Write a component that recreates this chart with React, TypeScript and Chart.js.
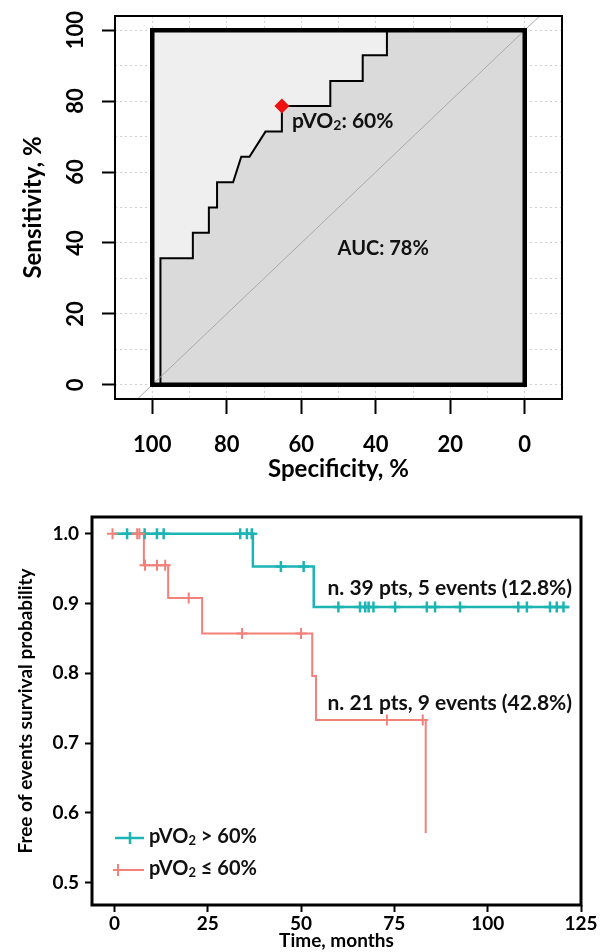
import React, { useEffect, useRef } from "react";
import { Chart, registerables } from "chart.js";

Chart.register(...registerables);

const FONT = "Lato, 'Open Sans', 'DejaVu Sans', sans-serif";

// ---------------- ROC curve (top panel) ----------------
const rocSpecificity = [100, 97.8, 97.8, 89.1, 89.1, 84.8, 84.8, 82.6, 82.6, 78.3, 76.1, 73.9, 69.6, 65.2, 65.2, 52.2, 52.2, 43.5, 43.5, 37.0, 37.0, 0];
const rocSensitivity = [0, 0, 35.7, 35.7, 42.9, 42.9, 50.0, 50.0, 57.1, 57.1, 64.3, 64.3, 71.4, 71.4, 78.6, 78.6, 85.7, 85.7, 92.9, 92.9, 100, 100];
const rocCutSpecificity = [65.2];
const rocCutSensitivity = [78.6];
const rocFrameSpecificity = [100, 0, 0, 100, 100, 0];
const rocFrameSensitivity = [0, 0, 100, 100, 0, 0];
const rocChanceSpecificity = [120, -20];
const rocChanceSensitivity = [-20, 120];
const rocGridValues = [0, 10, 20, 30, 40, 50, 60, 70, 80, 90, 100];
const rocLabelEvery = 20;
const rocCutLabel = ["pVO", "2", ": 60%"];
const rocAucLabel = "AUC: 78%";
const rocAucAt = [38, 38.5];

// ---------------- Kaplan-Meier (bottom panel) ----------------
const kmHighTimes = [0, 37.1, 53.4, 121.9];
const kmHighSurv = [1, 0.953, 0.895, 0.895];
const kmHighCensor = [3.4, 8.1, 11.4, 13.2, 33.7, 35.5, 36.8, 44.6, 50.7, 60.0, 65.8, 67.2, 68.1, 69.4, 75.2, 83.7, 85.9, 92.6, 108.2, 110.5, 116.7, 118.5, 120.3];
const kmLowTimes = [0, 7.9, 14.4, 23.5, 53.0, 54.0, 83.4];
const kmLowSurv = [1, 0.955, 0.908, 0.857, 0.796, 0.733, 0.571];
const kmLowCensor = [-0.5, 6.1, 6.7, 8.2, 11.4, 13.6, 19.9, 34.2, 50.0, 73.0, 82.6];
const kmXTicks = [0, 25, 50, 75, 100, 125];
const kmYTicks = [0.5, 0.6, 0.7, 0.8, 0.9, 1.0];
const kmHighLabel = "n. 39 pts, 5 events (12.8%)";
const kmLowLabel = "n. 21 pts, 9 events (42.8%)";
const kmHighLabelAt = [122.6, 0.922];
const kmLowLabelAt = [122.6, 0.757];
const kmHighLegend = ["pVO", "2", " > 60%"];
const kmLowLegend = ["pVO", "2", " \u2264 60%"];

const TEAL = "#1db4b4";
const SALMON = "#f4807a";

function survAt(times: number[], surv: number[], t: number) {
  let s = surv[0];
  for (let i = 0; i < times.length; i++) if (times[i] <= t) s = surv[i];
  return s;
}

function pts(xs: number[], ys: number[]) {
  return xs.map((x, i) => ({ x, y: ys[i] }));
}

function drawRich(ctx: CanvasRenderingContext2D, parts: string[], x: number, y: number, size: number, align: "left" | "center" | "right") {
  ctx.save();
  ctx.textBaseline = "middle";
  ctx.fillStyle = "#111";
  const fonts = parts.map((_, i) => `bold ${i === 1 ? Math.round(size * 0.66) : size}px ${FONT}`);
  const widths = parts.map((p, i) => {
    ctx.font = fonts[i];
    return ctx.measureText(p).width;
  });
  const total = widths.reduce((a, b) => a + b, 0);
  let cx = align === "left" ? x : align === "center" ? x - total / 2 : x - total;
  parts.forEach((p, i) => {
    ctx.font = fonts[i];
    ctx.textAlign = "left";
    ctx.fillText(p, cx, i === 1 ? y + size * 0.2 : y);
    cx += widths[i];
  });
  ctx.restore();
}

function rocConfig(): any {
  const tickSize = 22;
  const decor = {
    id: "rocDecor",
    beforeDatasetsDraw(chart: any) {
      const { ctx, scales } = chart;
      const x0 = scales.x.getPixelForValue(100);
      const x1 = scales.x.getPixelForValue(0);
      const y0 = scales.y.getPixelForValue(100);
      const y1 = scales.y.getPixelForValue(0);
      ctx.save();
      ctx.fillStyle = "#efefef";
      ctx.fillRect(x0, y0, x1 - x0, y1 - y0);
      ctx.restore();
    },
    afterDatasetsDraw(chart: any) {
      const { ctx, scales } = chart;
      const px = scales.x.getPixelForValue(rocCutSpecificity[0]);
      const py = scales.y.getPixelForValue(rocCutSensitivity[0]);
      drawRich(ctx, rocCutLabel, px + 10, py + 15, 21, "left");
      drawRich(ctx, [rocAucLabel], scales.x.getPixelForValue(rocAucAt[0]), scales.y.getPixelForValue(rocAucAt[1]), 20, "center");
    },
    afterDraw(chart: any) {
      const { ctx, chartArea: a, scales } = chart;
      ctx.save();
      ctx.strokeStyle = "#000";
      ctx.lineWidth = 2;
      ctx.strokeRect(a.left, a.top, a.right - a.left, a.bottom - a.top);
      // rotated y tick labels (parallel to the axis)
      ctx.fillStyle = "#000";
      ctx.font = `bold ${tickSize}px ${FONT}`;
      ctx.textAlign = "center";
      ctx.textBaseline = "middle";
      scales.y.ticks.forEach((t: any) => {
        if (t.value % rocLabelEvery !== 0) return;
        const yy = scales.y.getPixelForValue(t.value);
        ctx.save();
        ctx.translate(a.left - 39, yy);
        ctx.rotate(-Math.PI / 2);
        ctx.fillText(String(t.value), 0, 0);
        ctx.restore();
      });
      ctx.restore();
    },
  };
  const tickFont = { family: FONT, size: tickSize, weight: "bold" as const };
  const titleFont = { family: FONT, size: 24, weight: "bold" as const };
  const gridColor = "#cfcfcf";
  const tickColor = (c: any) => (c.tick && c.tick.value % rocLabelEvery === 0 ? "#000" : "rgba(0,0,0,0)");
  const label = (v: any) => (Number(v) % rocLabelEvery === 0 ? String(v) : "");
  return {
    type: "line",
    data: {
      datasets: [
        {
          data: pts(rocCutSpecificity, rocCutSensitivity),
          showLine: false,
          pointStyle: "rectRot",
          pointRadius: 7.5,
          pointBackgroundColor: "#ee1111",
          pointBorderColor: "#ee1111",
          pointBorderWidth: 0,
          clip: false,
        },
        {
          data: pts(rocFrameSpecificity, rocFrameSensitivity),
          borderColor: "#000",
          borderWidth: 4.5,
          borderJoinStyle: "miter",
          pointRadius: 0,
          fill: false,
        },
        {
          data: pts(rocChanceSpecificity, rocChanceSensitivity),
          borderColor: "#a9a9a9",
          borderWidth: 1,
          pointRadius: 0,
          fill: false,
        },
        {
          data: pts(rocSpecificity, rocSensitivity),
          borderColor: "#000",
          borderWidth: 2,
          borderJoinStyle: "miter",
          pointRadius: 0,
          fill: "origin",
          backgroundColor: "#dadada",
        },
      ],
    },
    options: {
      responsive: false,
      animation: false,
      events: [],
      layout: { padding: { left: 0, top: 16, right: 39, bottom: 0 } },
      plugins: { legend: { display: false }, tooltip: { enabled: false } },
      scales: {
        x: {
          type: "linear",
          reverse: true,
          min: -10,
          max: 110,
          afterBuildTicks: (s: any) => {
            s.ticks = rocGridValues.map((v) => ({ value: v }));
          },
          afterFit: (s: any) => {
            s.height = 85;
          },
          border: { display: false, dash: [2, 3] },
          grid: { color: gridColor, lineWidth: 1, tickLength: 15, tickWidth: 2, tickColor },
          ticks: { autoSkip: false, maxRotation: 0, padding: 18, color: "#000", font: tickFont, callback: label },
          title: { display: true, text: "Specificity, %", color: "#000", font: titleFont, padding: { top: 0, bottom: 0 } },
        },
        y: {
          type: "linear",
          min: -4,
          max: 104,
          afterBuildTicks: (s: any) => {
            s.ticks = rocGridValues.map((v) => ({ value: v }));
          },
          afterFit: (s: any) => {
            s.width = 115;
          },
          border: { display: false, dash: [2, 3] },
          grid: { color: gridColor, lineWidth: 1, tickLength: 13, tickWidth: 2, tickColor },
          ticks: { display: false, autoSkip: false, color: "#000", font: tickFont, callback: label },
          title: { display: true, text: "Sensitivity, %", color: "#000", font: titleFont, padding: { top: 19, bottom: 0 } },
        },
      },
    },
    plugins: [decor],
  };
}

function kmConfig(): any {
  const decor = {
    id: "kmDecor",
    afterDatasetsDraw(chart: any) {
      const { ctx, scales, chartArea: a } = chart;
      drawRich(ctx, [kmHighLabel], scales.x.getPixelForValue(kmHighLabelAt[0]), scales.y.getPixelForValue(kmHighLabelAt[1]), 21, "right");
      drawRich(ctx, [kmLowLabel], scales.x.getPixelForValue(kmLowLabelAt[0]), scales.y.getPixelForValue(kmLowLabelAt[1]), 21, "right");
      // legend
      const rows = [
        { color: TEAL, y: a.bottom - 67, mark: a.left + 38, text: kmHighLegend, w: 2.5 },
        { color: SALMON, y: a.bottom - 35, mark: a.left + 26, text: kmLowLegend, w: 2 },
      ];
      ctx.save();
      rows.forEach((r) => {
        ctx.strokeStyle = r.color;
        ctx.lineWidth = r.w;
        ctx.beginPath();
        ctx.moveTo(a.left + 23, r.y);
        ctx.lineTo(a.left + 52, r.y);
        ctx.moveTo(r.mark, r.y - 6);
        ctx.lineTo(r.mark, r.y + 6);
        ctx.moveTo(r.mark - 5, r.y);
        ctx.lineTo(r.mark + 5, r.y);
        ctx.stroke();
        drawRich(ctx, r.text, a.left + 57, r.y - 1, 20, "left");
      });
      ctx.restore();
    },
    afterDraw(chart: any) {
      const { ctx, chartArea: a } = chart;
      ctx.save();
      ctx.strokeStyle = "#000";
      ctx.lineWidth = 3;
      ctx.strokeRect(a.left, a.top, a.right - a.left, a.bottom - a.top);
      ctx.restore();
    },
  };
  const tickFont = { family: FONT, size: 19, weight: "bold" as const };
  const titleFont = { family: FONT, size: 19, weight: "bold" as const };
  const censor = (times: number[], ts: number[], ss: number[]) => times.map((t) => ({ x: t, y: survAt(ts, ss, t) }));
  return {
    type: "line",
    data: {
      datasets: [
        {
          data: censor(kmLowCensor, kmLowTimes, kmLowSurv),
          showLine: false,
          pointStyle: "cross",
          pointRadius: 5.5,
          pointBorderWidth: 2,
          pointBorderColor: SALMON,
        },
        {
          data: censor(kmHighCensor, kmHighTimes, kmHighSurv),
          showLine: false,
          pointStyle: "cross",
          pointRadius: 5.5,
          pointBorderWidth: 2.5,
          pointBorderColor: TEAL,
        },
        {
          data: pts(kmHighTimes, kmHighSurv),
          stepped: "before",
          borderColor: TEAL,
          borderWidth: 2.5,
          pointRadius: 0,
          fill: false,
        },
        {
          data: pts(kmLowTimes, kmLowSurv),
          stepped: "before",
          borderColor: SALMON,
          borderWidth: 2,
          pointRadius: 0,
          fill: false,
        },
      ],
    },
    options: {
      responsive: false,
      animation: false,
      events: [],
      layout: { padding: { left: 0, top: 33, right: 20, bottom: 0 } },
      plugins: { legend: { display: false }, tooltip: { enabled: false } },
      scales: {
        x: {
          type: "linear",
          min: -6,
          max: 125,
          afterBuildTicks: (s: any) => {
            s.ticks = kmXTicks.map((v) => ({ value: v }));
          },
          afterFit: (s: any) => {
            s.height = 47;
          },
          border: { display: false },
          grid: { drawOnChartArea: false, tickLength: 7, tickWidth: 2, tickColor: "#000" },
          ticks: { autoSkip: false, maxRotation: 0, padding: 0, color: "#000", font: tickFont },
          title: { display: true, text: "Time, months", color: "#000", font: titleFont, padding: { top: 0, bottom: 0 } },
        },
        y: {
          type: "linear",
          min: 0.468,
          max: 1.024,
          afterBuildTicks: (s: any) => {
            s.ticks = kmYTicks.map((v) => ({ value: v }));
          },
          afterFit: (s: any) => {
            s.width = 92;
          },
          border: { display: false },
          grid: { drawOnChartArea: false, tickLength: 7, tickWidth: 2, tickColor: "#000" },
          ticks: { autoSkip: false, padding: 6, color: "#000", font: tickFont, callback: (v: any) => Number(v).toFixed(1) },
          title: { display: true, text: "Free of events survival probability", color: "#000", font: titleFont, padding: { top: 14, bottom: 0 } },
        },
      },
    },
    plugins: [decor],
  };
}

function ChartCanvas({ make, width, height, top }: { make: () => any; width: number; height: number; top: number }) {
  const ref = useRef<HTMLCanvasElement>(null);
  useEffect(() => {
    const chart = new Chart(ref.current as HTMLCanvasElement, make());
    return () => chart.destroy();
  }, []);
  return <canvas ref={ref} width={width} height={height} style={{ position: "absolute", left: 0, top, width, height, display: "block" }} />;
}

export default function App() {
  return (
    <div style={{ position: "absolute", left: 0, top: 0, width: 601, height: 952, background: "#fff", overflow: "hidden" }}>
      <ChartCanvas make={rocConfig} width={601} height={484} top={0} />
      <ChartCanvas make={kmConfig} width={601} height={468} top={484} />
    </div>
  );
}
